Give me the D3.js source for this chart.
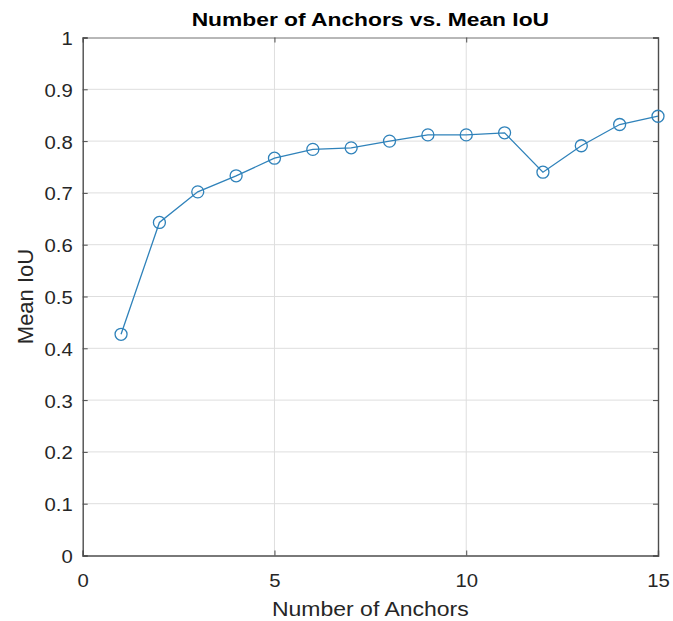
<!DOCTYPE html>
<html>
<head>
<meta charset="utf-8">
<script src="https://cdn.jsdelivr.net/npm/d3@7"></script>
<style>
  body { margin: 0; background: #fff; }
  svg { font-family: "Liberation Sans", Arial, sans-serif; }
</style>
</head>
<body>
<div id="chart"></div>
<script>
// data
const anchors = [1, 2, 3, 4, 5, 6, 7, 8, 9, 10, 11, 12, 13, 14, 15];
const meanIoU = [0.427, 0.643, 0.702, 0.733, 0.767, 0.784, 0.787, 0.800, 0.812, 0.812, 0.816, 0.740, 0.791, 0.832, 0.848];
const xTicks  = [0, 5, 10, 15];
const yTicks  = [0, 0.1, 0.2, 0.3, 0.4, 0.5, 0.6, 0.7, 0.8, 0.9, 1];

const W = 673, H = 621;
const margin = { top: 37.5, right: 15, bottom: 65.5, left: 82.7 };
const iW = W - margin.left - margin.right;
const iH = H - margin.top - margin.bottom;

const LINE = '#2f82ba';
const AXIS = '#4d4d4d';
const TEXT = '#262626';
const SX = 1.2; // the reference title looks stretched sideways

const svg = d3.select('#chart').append('svg')
  .attr('width', W).attr('height', H);

const g = svg.append('g')
  .attr('transform', `translate(${margin.left},${margin.top})`);

const x = d3.scaleLinear().domain([0, 15]).range([0, iW]);
const y = d3.scaleLinear().domain([0, 1]).range([iH, 0]);

// grid
g.append('g').selectAll('line').data(xTicks.slice(1, -1)).join('line')
  .attr('x1', d => x(d)).attr('x2', d => x(d))
  .attr('y1', 0).attr('y2', iH)
  .attr('stroke', '#dedede').attr('stroke-width', 1);
g.append('g').selectAll('line').data(yTicks.slice(1, -1)).join('line')
  .attr('x1', 0).attr('x2', iW)
  .attr('y1', d => y(d)).attr('y2', d => y(d))
  .attr('stroke', '#dedede').attr('stroke-width', 1);

// axes (ticks inward, box on)
const fmt = d => String(+d.toFixed(1));
const axBottom = g.append('g').attr('transform', `translate(0,${iH})`)
  .call(d3.axisBottom(x).tickValues(xTicks).tickSize(-5).tickFormat(d3.format('d')));
const axTop = g.append('g')
  .call(d3.axisTop(x).tickValues(xTicks).tickSize(-5).tickFormat(''));
const axLeft = g.append('g')
  .call(d3.axisLeft(y).tickValues(yTicks).tickSize(-5).tickFormat(fmt));
const axRight = g.append('g').attr('transform', `translate(${iW},0)`)
  .call(d3.axisRight(y).tickValues(yTicks).tickSize(-5).tickFormat(''));

[axBottom, axTop, axLeft, axRight].forEach(a => {
  a.select('.domain').attr('stroke', AXIS).attr('stroke-width', 1.4);
  a.selectAll('.tick line').attr('stroke', AXIS);
  a.selectAll('.tick text').attr('fill', TEXT).style('font-size', '19px');
});
axTop.select('.domain').attr('stroke-width', 0.8);

axBottom.selectAll('.tick text')
  .attr('x', null).attr('y', null).attr('dy', null)
  .attr('transform', 'translate(0,31.5) scale(1.07,1)');
axLeft.selectAll('.tick text')
  .attr('x', null).attr('y', null).attr('dy', null)
  .attr('transform', 'translate(-10,7) scale(1.07,1)');

// line + markers
const pts = anchors.map((a, i) => [a, meanIoU[i]]);
g.append('path').datum(pts)
  .attr('fill', 'none').attr('stroke', LINE).attr('stroke-width', 1.3)
  .attr('d', d3.line().x(d => x(d[0])).y(d => y(d[1])));
g.append('g').selectAll('circle').data(pts).join('circle')
  .attr('cx', d => x(d[0])).attr('cy', d => y(d[1]))
  .attr('r', 6)
  .attr('fill', 'none').attr('stroke', LINE).attr('stroke-width', 1.3);

// title & labels
svg.append('text')
  .attr('transform', `translate(${margin.left + iW / 2},26) scale(${SX},1)`)
  .attr('text-anchor', 'middle').attr('fill', '#000')
  .style('font-size', '19px').style('font-weight', 'bold')
  .text('Number of Anchors vs. Mean IoU');
svg.append('text')
  .attr('transform', `translate(${margin.left + iW / 2},616) scale(1.15,1)`)
  .attr('text-anchor', 'middle').attr('fill', TEXT)
  .style('font-size', '20px')
  .text('Number of Anchors');
svg.append('text')
  .attr('transform', `translate(33,${margin.top + iH / 2}) rotate(-90) scale(1.1,1.15)`)
  .attr('text-anchor', 'middle').attr('fill', TEXT)
  .style('font-size', '20px')
  .text('Mean IoU');
</script>
</body>
</html>
